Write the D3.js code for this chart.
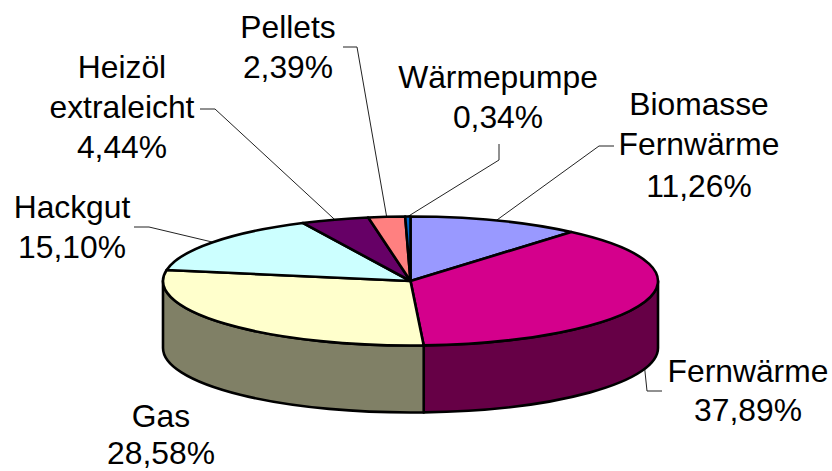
<!DOCTYPE html>
<html>
<head>
<meta charset="utf-8">
<title>Pie</title>
<script src="https://d3js.org/d3.v7.min.js"></script>
<style>
  html, body { margin: 0; padding: 0; background: #fff; overflow: hidden; }
  text { font-family: "Liberation Sans", Arial, sans-serif; font-size: 31.8px; fill: #000; text-anchor: middle; }
</style>
</head>
<body>
<div id="chart"></div>
<script>
// values
const categories = ["Biomasse Fernwärme", "Fernwärme", "Gas", "Hackgut", "Heizöl extraleicht", "Pellets", "Wärmepumpe"];
const shares = [11.26, 37.89, 28.58, 15.10, 4.44, 2.39, 0.34];
const shareLabels = ["11,26%", "37,89%", "28,58%", "15,10%", "4,44%", "2,39%", "0,34%"];
const topColors = ["#9999FF", "#D4008C", "#FFFFCC", "#CCFFFF", "#660066", "#FF8080", "#0066CC"];
const sideColors = ["#4D4D80", "#660046", "#808066", "#668080", "#330033", "#804040", "#003366"];

function createChart() {
    var width = 832, height = 471;
    var cx = 410.5, cy = 281, rx = 247.5, ry = 64.5, depth = 67;

    // label block centre and the baseline of each line
    var labelLines = [
        ["Biomasse", "Fernwärme"], ["Fernwärme"], ["Gas"], ["Hackgut"],
        ["Heizöl", "extraleicht"], ["Pellets"], ["Wärmepumpe"]
    ];
    var labelX = [699, 748, 161, 72, 122, 288, 498];
    var labelY = [[115, 155, 197], [382, 421], [427, 464], [218, 258], [78, 118, 158], [38, 78], [88, 128]];

    // leader lines: rim point comes from the slice, the rest is label side
    var leaderBend = [
        [[599, 146], [614, 146]], [[647, 391], [662, 391]], null,
        [[149, 227], [134, 227]], [[215, 109], [200, 109]],
        [[357, 47], [343, 47]], [[499, 160], [499, 144]]
    ];

    var svg = d3.select("#chart").append("svg")
        .attr("width", width)
        .attr("height", height);

    var x = d3.scaleLinear().domain([-1, 1]).range([cx - rx, cx + rx]);
    var y = d3.scaleLinear().domain([-1, 1]).range([cy - ry, cy + ry]);

    var arcs = d3.pie().sort(null).value(d => d)(shares);

    var px = a => x(Math.sin(a));
    var py = a => y(-Math.cos(a));

    function topPath(d) {
        var large = d.endAngle - d.startAngle > Math.PI ? 1 : 0;
        return `M${cx},${cy}L${px(d.startAngle)},${py(d.startAngle)}` +
            `A${rx},${ry} 0 ${large} 1 ${px(d.endAngle)},${py(d.endAngle)}Z`;
    }

    // side wall only exists on the front half of the ellipse
    function sidePath(d) {
        var a0 = Math.max(d.startAngle, Math.PI / 2);
        var a1 = Math.min(d.endAngle, Math.PI * 1.5);
        if (a1 <= a0) return null;
        return `M${px(a0)},${py(a0)}A${rx},${ry} 0 0 1 ${px(a1)},${py(a1)}` +
            `L${px(a1)},${py(a1) + depth}A${rx},${ry} 0 0 0 ${px(a0)},${py(a0) + depth}Z`;
    }

    svg.append("g").attr("id", "leaders")
        .attr("fill", "none")
        .attr("stroke", "#222")
        .attr("stroke-width", 1)
        .selectAll("path")
        .data(arcs.filter(d => leaderBend[d.index]))
        .enter()
        .append("path")
        .attr("d", d => {
            var mid = (d.startAngle + d.endAngle) / 2;
            // Fernwärme leaves from the right end of the wall, not the slice middle
            if (d.index == 1) mid = 1.9;
            var front = mid > Math.PI / 2 && mid < Math.PI * 1.5;
            return d3.line()([[px(mid), py(mid) + (front ? depth : 0)]].concat(leaderBend[d.index]));
        });

    svg.append("g").attr("id", "sides")
        .attr("stroke", "#000")
        .attr("stroke-width", 2.6)
        .attr("stroke-linejoin", "round")
        .selectAll("path")
        .data(arcs.filter(d => sidePath(d)))
        .enter()
        .append("path")
        .attr("d", sidePath)
        .attr("fill", d => sideColors[d.index]);

    svg.append("g").attr("id", "tops")
        .attr("stroke", "#000")
        .attr("stroke-width", 2.6)
        .attr("stroke-linejoin", "round")
        .selectAll("path")
        .data(arcs)
        .enter()
        .append("path")
        .attr("d", topPath)
        .attr("fill", d => topColors[d.index]);

    var labels = svg.append("g").attr("id", "labels")
        .selectAll("text")
        .data(categories)
        .enter()
        .append("text");

    labels.each(function(d, i) {
        var el = d3.select(this);
        labelLines[i].concat(shareLabels[i]).forEach((line, k) => {
            el.append("tspan")
                .attr("x", labelX[i])
                .attr("y", labelY[i][k])
                .text(line);
        });
    });
}

window.onload = createChart;
</script>
</body>
</html>
